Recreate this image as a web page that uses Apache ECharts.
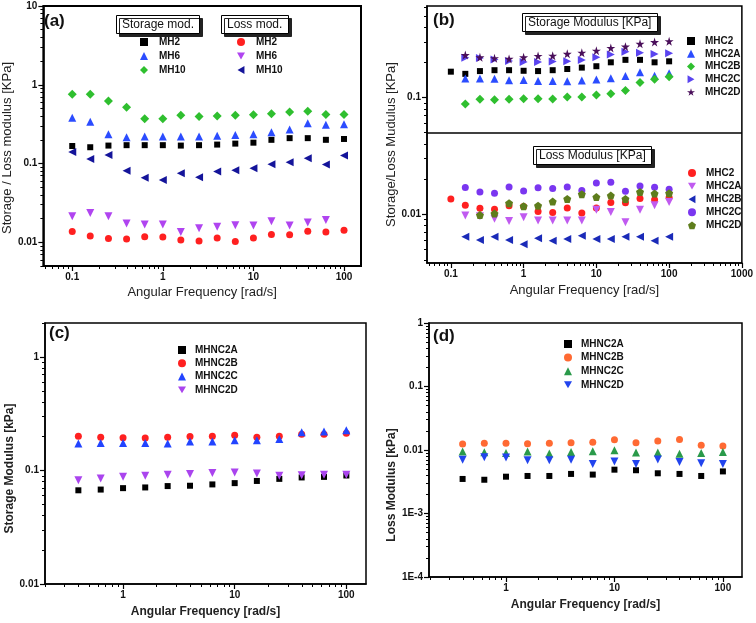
<!DOCTYPE html>
<html><head><meta charset="utf-8">
<script src="https://cdn.jsdelivr.net/npm/echarts@6/dist/echarts.min.js"></script>
<style>html,body{margin:0;padding:0;background:#fff}#c{width:756px;height:623px}</style>
</head><body><div id="c"></div><script>
// ---------- data ----------
const FREQ = [0.1,0.158,0.251,0.398,0.631,1,1.58,2.51,3.98,6.31,10,15.8,25.1,39.8,63.1,100];
const FREQ_CD = [0.398,0.631,1,1.58,2.51,3.98,6.31,10,15.8,25.1,39.8,63.1,100];

// panel (a)
const A_MH2_STORAGE  = [0.167,0.161,0.169,0.171,0.171,0.171,0.169,0.171,0.174,0.179,0.184,0.2,0.21,0.21,0.2,0.205];
const A_MH6_STORAGE  = [0.38,0.34,0.235,0.215,0.22,0.22,0.22,0.22,0.226,0.23,0.235,0.25,0.27,0.325,0.31,0.315];
const A_MH10_STORAGE = [0.76,0.76,0.62,0.52,0.37,0.37,0.41,0.395,0.40,0.41,0.415,0.43,0.45,0.46,0.42,0.42];
const A_MH2_LOSS     = [0.0137,0.012,0.0112,0.011,0.0118,0.0117,0.0107,0.0104,0.0113,0.0102,0.0113,0.0126,0.0125,0.0138,0.0135,0.0142];
const A_MH6_LOSS     = [0.0214,0.0236,0.0214,0.0173,0.0168,0.0168,0.0135,0.0151,0.0157,0.0165,0.0163,0.0185,0.0163,0.0178,0.0192];
const A_MH10_LOSS    = [0.14,0.114,0.128,0.081,0.066,0.062,0.075,0.067,0.079,0.082,0.087,0.098,0.104,0.117,0.097,0.126];

// panel (b)
const B_MHC2_STORAGE  = [0.167,0.16,0.169,0.172,0.172,0.17,0.169,0.172,0.176,0.181,0.186,0.201,0.211,0.211,0.201,0.205];
const B_MHC2A_STORAGE = [0.146,0.146,0.145,0.141,0.142,0.139,0.139,0.138,0.14,0.143,0.147,0.153,0.165,0.154,0.162];
const B_MHC2B_STORAGE = [0.088,0.097,0.096,0.097,0.098,0.098,0.0975,0.101,0.101,0.1055,0.108,0.115,0.135,0.144,0.151];
const B_MHC2C_STORAGE = [0.22,0.219,0.213,0.206,0.202,0.202,0.204,0.205,0.21,0.222,0.235,0.248,0.243,0.237,0.24];
const B_MHC2D_STORAGE = [0.232,0.222,0.218,0.215,0.222,0.228,0.229,0.238,0.243,0.253,0.267,0.274,0.29,0.3,0.305];
const B_MHC2_LOSS  = [0.0135,0.0119,0.0112,0.011,0.0118,0.0116,0.0105,0.0103,0.0113,0.0102,0.0113,0.0126,0.0125,0.0136,0.0133,0.0139];
const B_MHC2A_LOSS = [0.0097,0.0096,0.0091,0.0087,0.0094,0.0088,0.0088,0.0088,0.0088,0.0109,0.0104,0.0085,0.0109,0.0119,0.0127];
const B_MHC2B_LOSS = [0.0064,0.006,0.0064,0.006,0.0055,0.0062,0.0059,0.0061,0.0065,0.0061,0.0061,0.0064,0.0064,0.0059,0.0064];
const B_MHC2C_LOSS = [0.0169,0.0155,0.0151,0.0171,0.0158,0.0168,0.0166,0.0171,0.0159,0.0185,0.0188,0.0157,0.0174,0.017,0.0163];
const B_MHC2D_LOSS = [0.0098,0.0101,0.0124,0.0117,0.0118,0.0128,0.0135,0.0148,0.014,0.0144,0.0135,0.0155,0.015,0.0151];
const B_DIVIDER = 0.046;

// panel (c)
const C_MHNC2A = [0.067,0.068,0.07,0.071,0.073,0.0735,0.0755,0.0775,0.081,0.0845,0.087,0.088,0.0905];
const C_MHNC2B = [0.201,0.197,0.195,0.194,0.197,0.2,0.201,0.205,0.197,0.201,0.209,0.209,0.213];
const C_MHNC2C = [0.173,0.175,0.175,0.175,0.173,0.18,0.18,0.185,0.185,0.19,0.218,0.221,0.227];
const C_MHNC2D = [0.082,0.085,0.088,0.09,0.092,0.0935,0.095,0.096,0.094,0.09,0.091,0.092,0.092];

// panel (d)
const D_MHNC2A = [0.0035,0.0034,0.0038,0.0039,0.0039,0.0042,0.0041,0.0049,0.0048,0.0043,0.0042,0.0039,0.0046];
const D_MHNC2B = [0.0124,0.0128,0.0128,0.0125,0.0128,0.013,0.0133,0.0145,0.013,0.0138,0.0147,0.0119,0.0116];
const D_MHNC2C = [0.0095,0.0092,0.009,0.0095,0.0088,0.0093,0.0096,0.0099,0.0091,0.0091,0.0087,0.009,0.0093];
const D_MHNC2D = [0.007,0.0077,0.0076,0.0069,0.0069,0.007,0.006,0.0066,0.006,0.0071,0.0065,0.0062,0.006];

// ---------- helpers ----------
const FONT = 'Liberation Sans, Arial, sans-serif';
const pairs = (xs, ys) => ys.map((y, i) => [xs[i], y]);
function majors(min, max) {
  const out = [];
  for (let e = Math.floor(Math.log10(min)); e <= Math.ceil(Math.log10(max)); e++) {
    const v = +Math.pow(10, e).toPrecision(3);
    if (v >= min * 0.999 && v <= max * 1.001) out.push(v);
  }
  return out;
}
function minors(min, max) {
  const out = [];
  for (let e = Math.floor(Math.log10(min)); e <= Math.ceil(Math.log10(max)); e++) {
    for (let k = 2; k <= 9; k++) {
      const v = +(k * Math.pow(10, e)).toPrecision(3);
      if (v >= min && v <= max) out.push(v);
    }
  }
  return out;
}
function axisPair(gi, pos, min, max, extra, fmt) {
  const major = Object.assign({
    type: 'log', gridIndex: gi, position: pos, min: min, max: max, logBase: 10,
    axisLine: { show: true, lineStyle: { color: '#000', width: 1.5 } },
    axisTick: { show: true, length: 5, lineStyle: { color: '#000', width: 1.2 }, customValues: majors(min, max) },
    axisLabel: { show: true, customValues: majors(min, max), fontFamily: FONT, fontWeight: 'bold', fontSize: 10, color: '#111', margin: 6,
      formatter: fmt || (v => String(+(+v).toPrecision(3))) },
    splitLine: { show: false }, minorTick: { show: false }
  }, extra || {});
  const minor = {
    type: 'log', gridIndex: gi, position: pos, offset: 0, min: min, max: max, logBase: 10,
    axisLine: { show: false },
    axisTick: { show: true, length: 3, lineStyle: { color: '#000', width: 1 }, customValues: minors(min, max) },
    axisLabel: { show: false }, splitLine: { show: false }
  };
  return [major, minor];
}
const SYM = {
  square: 'rect', circle: 'circle', up: 'triangle', diamond: 'diamond',
  down: 'path://M0,0 L10,0 L5,8.66 Z',
  left: 'path://M8.66,0 L8.66,10 L0,5 Z',
  right: 'path://M0,0 L0,10 L8.66,5 Z',
  star: 'path://M50,0 L61,35 L98,35 L68,57 L79,91 L50,70 L21,91 L32,57 L2,35 L39,35 Z',
  pentagon: 'path://M50,0 L98,35 L79,91 L21,91 L2,35 Z'
};
function sc(name, ax, data, symbol, size, color) {
  return { type: 'scatter', name: name, xAxisIndex: ax, yAxisIndex: ax, data: data,
    symbol: SYM[symbol], symbolSize: size, itemStyle: { color: color, opacity: 1 }, emphasis: { disabled: true } };
}
function legend(names, left, top, gap, textPad) {
  return { orient: 'vertical', left: left, top: top, data: names, itemWidth: 8, itemHeight: 8, itemGap: gap,
    padding: 0, selectedMode: false,
    textStyle: { fontFamily: FONT, fontWeight: 'bold', fontSize: 10, color: '#111', lineHeight: 12, padding: [0, 0, 0, textPad] },
    formatter: n => n.split('|')[0] };
}
function boxTitle(text, left, top, pad) {
  return { text: text, left: left, top: top, padding: pad,
    textStyle: { fontFamily: FONT, fontWeight: 'normal', fontSize: 12, color: '#111', lineHeight: 13 },
    backgroundColor: '#fff', borderColor: '#000', borderWidth: 1,
    shadowColor: '#222', shadowBlur: 0, shadowOffsetX: 3, shadowOffsetY: 3 };
}
function panelTitle(text, left, top) {
  return { text: text, left: left, top: top, padding: 0,
    textStyle: { fontFamily: FONT, fontWeight: 'bold', fontSize: 17, color: '#111' } };
}
const xTitle = (bold, gap) => ({ name: 'Angular Frequency [rad/s]', nameLocation: 'middle', nameGap: gap,
  nameTextStyle: { fontFamily: FONT, fontSize: bold ? 12 : 13, fontWeight: bold ? 'bold' : 'normal', color: '#222' } });
const yTitle = (name, bold, gap, pad) => ({ name: name, nameLocation: 'middle', nameGap: gap,
  nameTextStyle: { fontFamily: FONT, fontSize: bold ? 12 : 13, fontWeight: bold ? 'bold' : 'normal', color: '#222', padding: pad || 0 } });

// ---------- layout ----------
const gridStyle = { show: true, borderColor: '#000', borderWidth: 1.5, backgroundColor: 'transparent' };
const grids = [
  Object.assign({ left: 38, top: 6, width: 323, height: 260 }, gridStyle, { borderWidth: 2 }),
  Object.assign({ left: 427, top: 6, width: 317, height: 257 }, gridStyle),
  Object.assign({ left: 45, top: 323, width: 321, height: 261 }, gridStyle),
  Object.assign({ left: 429, top: 323, width: 313, height: 254 }, gridStyle)
];

const dFmt = v => { v = +v; return v >= 0.01 ? String(+v.toPrecision(3)) : '1E' + Math.round(Math.log10(v)); };

const xAxes = [
  ...axisPair(0, 'bottom', 0.048, 154, xTitle(false, 20)),
  ...axisPair(1, 'bottom', 0.047, 1000, xTitle(false, 21)),
  ...axisPair(2, 'bottom', 0.2, 150, xTitle(true, 22)),
  ...axisPair(3, 'bottom', 0.195, 150, xTitle(true, 22))
];
const yAxes = [
  ...axisPair(0, 'left', 0.005, 10, yTitle('Storage / Loss modulus [KPa]', false, 24, [0, 24, 0, 0])),
  ...axisPair(1, 'left', 0.0038, 0.612, yTitle('Storage/Loss Mudulus [KPa]', false, 26, [0, 20, 0, 0])),
  ...axisPair(2, 'left', 0.01, 2, yTitle('Storage Modulus [kPa]', true, 28, [0, 30, 0, 0])),
  ...axisPair(3, 'left', 0.0001, 1, yTitle('Loss Modulus [kPa]', true, 28, [0, 70, 0, 0]), dFmt)
];

const FB = FREQ.slice(1), FB2 = FREQ.slice(2);
const series = [
  sc('MH2|s', 0, pairs(FREQ, A_MH2_STORAGE), 'square', 6, '#000'),
  sc('MH6|s', 0, pairs(FREQ, A_MH6_STORAGE), 'up', 8, '#2b4cff'),
  sc('MH10|s', 0, pairs(FREQ, A_MH10_STORAGE), 'diamond', 9, '#2fbf2f'),
  sc('MH2|l', 0, pairs(FREQ, A_MH2_LOSS), 'circle', 7, '#ff2020'),
  sc('MH6|l', 0, pairs(FREQ, A_MH6_LOSS), 'down', 8, '#b044f0'),
  sc('MH10|l', 0, pairs(FREQ, A_MH10_LOSS), 'left', 8, '#14149a'),

  Object.assign(sc('MHC2|s', 2, pairs(FREQ, B_MHC2_STORAGE), 'square', 6, '#000'), {
    markLine: { silent: true, symbol: ['none', 'none'], label: { show: false },
      lineStyle: { color: '#000', width: 1.5, type: 'solid' }, data: [{ yAxis: B_DIVIDER }] } }),
  sc('MHC2A|s', 2, pairs(FB, B_MHC2A_STORAGE), 'up', 8, '#2b4cff'),
  sc('MHC2B|s', 2, pairs(FB, B_MHC2B_STORAGE), 'diamond', 9, '#2fbf2f'),
  sc('MHC2C|s', 2, pairs(FB, B_MHC2C_STORAGE), 'right', 8, '#5a44f0'),
  sc('MHC2D|s', 2, pairs(FB, B_MHC2D_STORAGE), 'star', 9, '#4a0f5a'),
  sc('MHC2|l', 2, pairs(FREQ, B_MHC2_LOSS), 'circle', 7, '#ff2020'),
  sc('MHC2A|l', 2, pairs(FB, B_MHC2A_LOSS), 'down', 8, '#c05af0'),
  sc('MHC2B|l', 2, pairs(FB, B_MHC2B_LOSS), 'left', 8, '#1a2ab8'),
  sc('MHC2C|l', 2, pairs(FB, B_MHC2C_LOSS), 'circle', 7, '#7a36f0'),
  sc('MHC2D|l', 2, pairs(FB2, B_MHC2D_LOSS), 'pentagon', 8, '#5e7d1c'),

  sc('MHNC2A|c', 4, pairs(FREQ_CD, C_MHNC2A), 'square', 6, '#000'),
  sc('MHNC2B|c', 4, pairs(FREQ_CD, C_MHNC2B), 'circle', 7, '#ff2020'),
  sc('MHNC2C|c', 4, pairs(FREQ_CD, C_MHNC2C), 'up', 8, '#2244ff'),
  sc('MHNC2D|c', 4, pairs(FREQ_CD, C_MHNC2D), 'down', 8, '#aa44ee'),

  sc('MHNC2A|d', 6, pairs(FREQ_CD, D_MHNC2A), 'square', 6, '#000'),
  sc('MHNC2B|d', 6, pairs(FREQ_CD, D_MHNC2B), 'circle', 7, '#ff6a33'),
  sc('MHNC2C|d', 6, pairs(FREQ_CD, D_MHNC2C), 'up', 8, '#2a9a4a'),
  sc('MHNC2D|d', 6, pairs(FREQ_CD, D_MHNC2D), 'down', 8, '#2244ee')
];

const option = {
  animation: false,
  backgroundColor: '#fff',
  grid: grids,
  xAxis: xAxes,
  yAxis: yAxes,
  title: [
    panelTitle('(a)', 44, 13), panelTitle('(b)', 433, 12), panelTitle('(c)', 49, 325), panelTitle('(d)', 433, 328),
    boxTitle('Storage mod.', 116, 15, [3, 6, 3, 6]), boxTitle('Loss mod.', 221, 15, [3, 6, 3, 6]),
    boxTitle('Storage Modulus [KPa]', 522, 13, [3, 6, 3, 6]), boxTitle('Loss Modulus [KPa]', 533, 146, [3, 6, 3, 6])
  ],
  legend: [
    legend(['MH2|s', 'MH6|s', 'MH10|s'], 140, 36, 2, 6),
    legend(['MH2|l', 'MH6|l', 'MH10|l'], 237, 36, 2, 6),
    legend(['MHC2|s', 'MHC2A|s', 'MHC2B|s', 'MHC2C|s', 'MHC2D|s'], 687, 35, 0.75, 5),
    legend(['MHC2|l', 'MHC2A|l', 'MHC2B|l', 'MHC2C|l', 'MHC2D|l'], 688, 167, 1.1, 5),
    legend(['MHNC2A|c', 'MHNC2B|c', 'MHNC2C|c', 'MHNC2D|c'], 178, 344, 1.3, 4),
    legend(['MHNC2A|d', 'MHNC2B|d', 'MHNC2C|d', 'MHNC2D|d'], 564, 338, 1.6, 4)
  ],
  series: series
};
const chart = echarts.init(document.getElementById('c'), null, { renderer: 'canvas' });
chart.setOption(option);
</script></body></html>
